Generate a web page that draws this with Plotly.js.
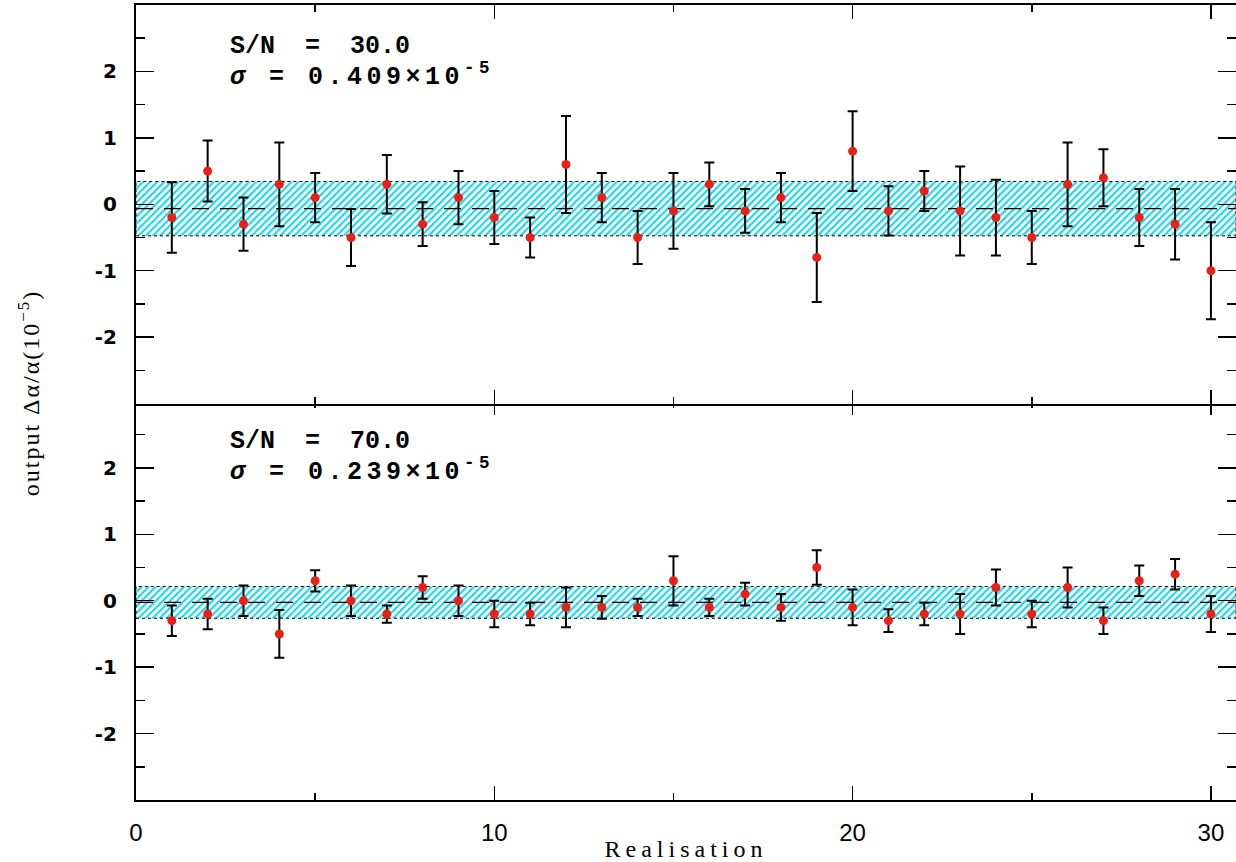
<!DOCTYPE html>
<html>
<head>
<meta charset="utf-8">
<script src="https://cdn.plot.ly/plotly-3.0.1.min.js"></script>
<style>
html,body{margin:0;padding:0;background:#ffffff;}
#chart{width:1236px;height:862px;}
</style>
</head>
<body>
<div id="chart"></div>
<script>
// ---------- data ----------
const realisation = [1,2,3,4,5,6,7,8,9,10,11,12,13,14,15,16,17,18,19,20,21,22,23,24,25,26,27,28,29,30];

// S/N = 30 panel (top)
const sn30Values = [-0.2,0.5,-0.3,0.3,0.1,-0.5,0.3,-0.3,0.1,-0.2,-0.5,0.6,0.1,-0.5,-0.1,0.3,-0.1,0.1,-0.8,0.8,-0.1,0.2,-0.1,-0.2,-0.5,0.3,0.4,-0.2,-0.3,-1.0];
const sn30Errors = [0.53,0.46,0.40,0.63,0.37,0.43,0.44,0.33,0.40,0.40,0.30,0.73,0.37,0.40,0.57,0.33,0.33,0.37,0.67,0.60,0.37,0.30,0.67,0.57,0.40,0.63,0.43,0.43,0.53,0.73];

// S/N = 70 panel (bottom)
const sn70Values = [-0.3,-0.2,0.0,-0.5,0.3,0.0,-0.2,0.2,0.0,-0.2,-0.2,-0.1,-0.1,-0.1,0.3,-0.1,0.1,-0.1,0.5,-0.1,-0.3,-0.2,-0.2,0.2,-0.2,0.2,-0.3,0.3,0.4,-0.2];
const sn70Errors = [0.23,0.23,0.23,0.36,0.16,0.23,0.13,0.17,0.23,0.20,0.17,0.30,0.17,0.13,0.37,0.13,0.17,0.20,0.26,0.27,0.17,0.17,0.30,0.27,0.20,0.30,0.20,0.23,0.23,0.27];

const panelMeans  = [-0.066, -0.025];
const panelSigmas = [0.409, 0.239];
const panelSN     = ['30.0', '70.0'];

const yTickVals = [-2, -1, 0, 1, 2];
const yTickText = ['-2', '-1', '0', '1', '2'];
const xTickVals = [0, 10, 20, 30];
const xRange = [0, 30.7];
const yRange = [-3, 3];

// ---------- styling ----------
const RED = 'rgb(232,32,22)';
const CYAN = 'rgb(24,214,234)';

function panelTraces(vals, errs, mean, sigma, xa, ya) {
  const lo = mean - sigma, hi = mean + sigma;
  return [
    {
      x: [xRange[0], xRange[1], xRange[1], xRange[0], xRange[0]],
      y: [lo, lo, hi, hi, lo],
      xaxis: xa, yaxis: ya,
      mode: 'lines', fill: 'toself',
      fillcolor: 'white',
      fillpattern: {shape: '/', fgcolor: CYAN, bgcolor: 'white', size: 5, solidity: 0.42, fillmode: 'replace'},
      line: {color: 'black', width: 1, dash: '3px,3px'},
      hoverinfo: 'skip'
    },
    {
      x: xRange, y: [mean, mean],
      xaxis: xa, yaxis: ya,
      mode: 'lines',
      line: {color: 'black', width: 1.2, dash: '17px,11px'},
      hoverinfo: 'skip'
    },
    {
      x: realisation, y: vals,
      xaxis: xa, yaxis: ya,
      mode: 'markers',
      marker: {color: RED, size: 9, line: {width: 0}},
      error_y: {type: 'data', array: errs, visible: true, color: 'black', thickness: 2, width: 5}
    }
  ];
}

const data = [
  ...panelTraces(sn30Values, sn30Errors, panelMeans[0], panelSigmas[0], 'x2', 'y2'),
  ...panelTraces(sn70Values, sn70Errors, panelMeans[1], panelSigmas[1], 'x', 'y')
];

const xCommon = {
  range: xRange,
  tickmode: 'array', tickvals: xTickVals,
  ticks: 'inside', ticklen: 14, tickwidth: 1.5, tickcolor: 'black',
  minor: {tickmode: 'linear', tick0: 0, dtick: 5, ticks: 'inside', ticklen: 7, tickwidth: 1.5, tickcolor: 'black', showgrid: false},
  showline: true, linewidth: 2, linecolor: 'black', mirror: 'ticks',
  showgrid: false, zeroline: false
};
const yCommon = {
  range: yRange,
  tickmode: 'array', tickvals: yTickVals, ticktext: yTickText,
  ticks: 'inside', ticklen: 18, tickwidth: 1.5, tickcolor: 'black',
  minor: {tickmode: 'linear', tick0: 0, dtick: 0.5, ticks: 'inside', ticklen: 9, tickwidth: 1.5, tickcolor: 'black', showgrid: false},
  showline: true, linewidth: 2, linecolor: 'black', mirror: 'ticks',
  showgrid: false, zeroline: false,
  tickfont: {family: 'DejaVu Sans', size: 20, color: 'black', weight: 'bold'},
  ticklabelstandoff: 13
};

function annot(text, x, y, yref) {
  return {text: text, x: x, y: y, xref: 'x', yref: yref, xanchor: 'left', yanchor: 'middle',
          showarrow: false, align: 'left',
          font: {family: 'Liberation Mono', size: 25, color: 'black', weight: 'bold'}};
}

const layout = {
  width: 1236, height: 862,
  margin: {l: 136, r: 0, t: 5, b: 62},
  paper_bgcolor: 'white', plot_bgcolor: 'white',
  showlegend: false,
  xaxis: Object.assign({}, xCommon, {
    domain: [0, 1], anchor: 'y',
    tickfont: {family: 'Liberation Sans', size: 24, color: 'black'},
    ticklabelstandoff: 10,
    title: {text: 'Realisation', font: {family: 'Liberation Serif', size: 24, color: 'black'}, standoff: 0}
  }),
  xaxis2: Object.assign({}, xCommon, {domain: [0, 1], anchor: 'y2', matches: 'x', showticklabels: false}),
  yaxis: Object.assign({}, yCommon, {domain: [0, 0.5013], anchor: 'x'}),
  yaxis2: Object.assign({}, yCommon, {domain: [0.4987, 1], anchor: 'x2'}),
  annotations: [
    annot('S/N  =  ' + panelSN[0], 2.58, 2.37, 'y2'),
    annot('<i>σ</i> = ' + panelSigmas[0].toFixed(3) + '×10<sup>-5</sup>', 2.58, 1.94, 'y2'),
    annot('S/N  =  ' + panelSN[1], 2.58, 2.39, 'y'),
    annot('<i>σ</i> = ' + panelSigmas[1].toFixed(3) + '×10<sup>-5</sup>', 2.58, 1.97, 'y'),
    {text: 'output Δα/α(10<sup>−5</sup>)', xref: 'paper', yref: 'paper', x: -0.097, y: 0.512,
     xanchor: 'center', yanchor: 'middle', textangle: -90, showarrow: false,
     font: {family: 'Liberation Serif', size: 24, color: 'black'}}
  ]
};

Plotly.newPlot('chart', data, layout, {displayModeBar: false, staticPlot: true}).then(function (gd) {
  const xt = gd.querySelector('.xtitle');
  if (xt) xt.style.letterSpacing = '5px';
  gd.querySelectorAll('.annotation[data-index="4"] text').forEach(function (t) { t.style.letterSpacing = '2px'; });
  ['1', '3'].forEach(function (i) {
    gd.querySelectorAll('.annotation[data-index="' + i + '"] text').forEach(function (t) { t.style.letterSpacing = '4.5px'; });
  });
});
</script>
</body>
</html>
